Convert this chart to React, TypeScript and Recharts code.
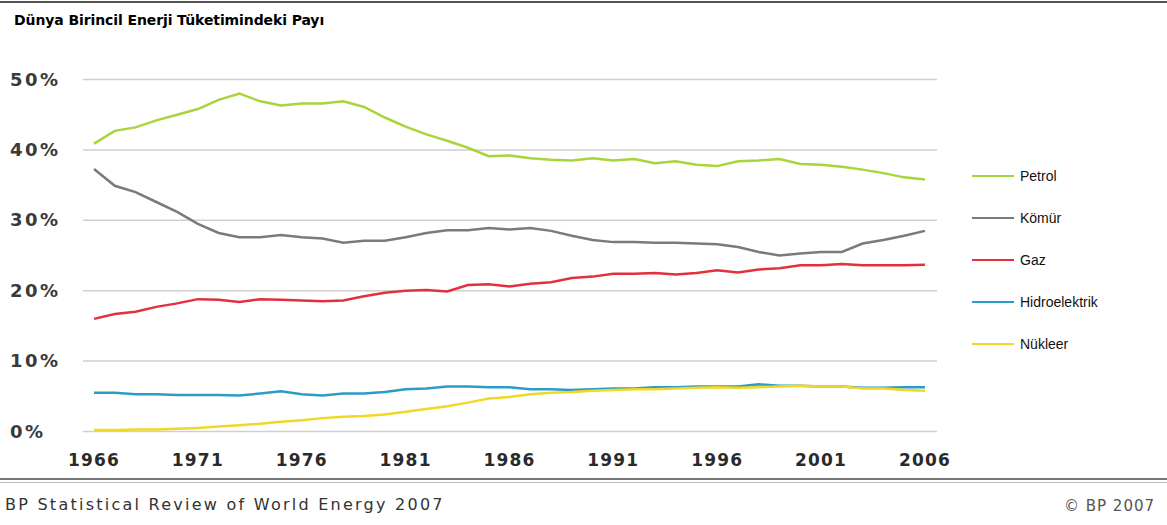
import React from 'react';
import { LineChart, Line, XAxis, YAxis, CartesianGrid } from 'recharts';

const years = [
  1966, 1967, 1968, 1969, 1970, 1971, 1972, 1973, 1974, 1975,
  1976, 1977, 1978, 1979, 1980, 1981, 1982, 1983, 1984, 1985,
  1986, 1987, 1988, 1989, 1990, 1991, 1992, 1993, 1994, 1995,
  1996, 1997, 1998, 1999, 2000, 2001, 2002, 2003, 2004, 2005, 2006,
];

const petrol = [
  40.9, 42.7, 43.2, 44.2, 45.0, 45.8, 47.1, 48.0, 46.9, 46.3,
  46.6, 46.6, 46.9, 46.1, 44.6, 43.3, 42.2, 41.3, 40.3, 39.1,
  39.2, 38.8, 38.6, 38.5, 38.8, 38.5, 38.7, 38.1, 38.4, 37.9,
  37.7, 38.4, 38.5, 38.7, 38.0, 37.9, 37.6, 37.2, 36.7, 36.1, 35.8,
];

const komur = [
  37.3, 34.9, 34.0, 32.6, 31.2, 29.5, 28.2, 27.6, 27.6, 27.9,
  27.6, 27.4, 26.8, 27.1, 27.1, 27.6, 28.2, 28.6, 28.6, 28.9,
  28.7, 28.9, 28.5, 27.8, 27.2, 26.9, 26.9, 26.8, 26.8, 26.7,
  26.6, 26.2, 25.5, 25.0, 25.3, 25.5, 25.5, 26.7, 27.2, 27.8, 28.5,
];

const gaz = [
  16.0, 16.7, 17.0, 17.7, 18.2, 18.8, 18.7, 18.4, 18.8, 18.7,
  18.6, 18.5, 18.6, 19.2, 19.7, 20.0, 20.1, 19.9, 20.8, 20.9,
  20.6, 21.0, 21.2, 21.8, 22.0, 22.4, 22.4, 22.5, 22.3, 22.5,
  22.9, 22.6, 23.0, 23.2, 23.6, 23.6, 23.8, 23.6, 23.6, 23.6, 23.7,
];

const hidro = [
  5.5, 5.5, 5.3, 5.3, 5.2, 5.2, 5.2, 5.1, 5.4, 5.7,
  5.3, 5.1, 5.4, 5.4, 5.6, 6.0, 6.1, 6.4, 6.4, 6.3,
  6.3, 6.0, 6.0, 5.9, 6.0, 6.1, 6.1, 6.3, 6.3, 6.4,
  6.4, 6.4, 6.7, 6.5, 6.5, 6.4, 6.4, 6.2, 6.2, 6.3, 6.3,
];

const nukleer = [
  0.2, 0.2, 0.3, 0.3, 0.4, 0.5, 0.7, 0.9, 1.1, 1.4,
  1.6, 1.9, 2.1, 2.2, 2.4, 2.8, 3.2, 3.6, 4.1, 4.7,
  4.9, 5.3, 5.5, 5.6, 5.8, 5.9, 6.0, 6.0, 6.1, 6.2,
  6.3, 6.2, 6.3, 6.4, 6.5, 6.4, 6.4, 6.1, 6.1, 5.9, 5.8,
];

const xTicks = [1966, 1971, 1976, 1981, 1986, 1991, 1996, 2001, 2006];
const yTicks = [0, 10, 20, 30, 40, 50];

const series = [
  { key: 'petrol', name: 'Petrol', color: '#a8d43c' },
  { key: 'komur', name: 'Kömür', color: '#7a7a7a' },
  { key: 'gaz', name: 'Gaz', color: '#e2303e' },
  { key: 'hidro', name: 'Hidroelektrik', color: '#2b9cc6' },
  { key: 'nukleer', name: 'Nükleer', color: '#f0d824' },
];

const data = years.map((year, i) => ({
  year,
  petrol: petrol[i],
  komur: komur[i],
  gaz: gaz[i],
  hidro: hidro[i],
  nukleer: nukleer[i],
}));

function YTick({ y, payload }: any) {
  return (
    <text x={10} y={y} dy={6} textAnchor="start" fill="#3a3a3a"
      fontFamily="DejaVu Sans" fontWeight="bold" fontSize={18} letterSpacing={2.5}>
      {payload.value}%
    </text>
  );
}

function XTick({ x, y, payload }: any) {
  return (
    <text x={x} y={y} dy={26} textAnchor="middle" fill="#2a2a2a"
      fontFamily="DejaVu Sans" fontWeight="bold" fontSize={17} letterSpacing={1.2}>
      {payload.value}
    </text>
  );
}

export default function App() {
  return (
    <div style={{ position: 'absolute', left: 0, top: 0, width: 1167, height: 525, background: '#fff', overflow: 'hidden' }}>
      <div style={{ position: 'absolute', left: 0, top: 1, width: 1167, height: 2, background: '#555' }} />
      <div style={{
        position: 'absolute', left: 14, top: 12, fontFamily: 'DejaVu Sans, sans-serif',
        fontWeight: 'bold', fontSize: 14, color: '#000', letterSpacing: -0.1, whiteSpace: 'nowrap',
      }}>
        Dünya Birincil Enerji Tüketimindeki Payı
      </div>

      <LineChart width={1167} height={525} data={data}
        margin={{ top: 79.5, right: 230, bottom: 63.5, left: 10 }}>
        <CartesianGrid vertical={false} stroke="#cfcfcf" strokeWidth={1.5} />
        <XAxis dataKey="year" type="number" domain={[1965.47, 2006.58]} ticks={xTicks}
          allowDataOverflow axisLine={false} tickLine={false} height={30} tick={<XTick />} />
        <YAxis type="number" domain={[0, 50]} ticks={yTicks} width={73}
          axisLine={false} tickLine={false} tick={<YTick />} />
        {series.map((s) => (
          <Line key={s.key} dataKey={s.key} name={s.name} stroke={s.color} strokeWidth={2.5}
            dot={false} isAnimationActive={false} type="linear" />
        ))}
      </LineChart>

      <div style={{
        position: 'absolute', left: 972, top: 155, fontFamily: 'Liberation Sans, Arial, sans-serif',
        fontSize: 14, color: '#111',
      }}>
        {series.map((s) => (
          <div key={s.key} style={{ display: 'flex', alignItems: 'center', height: 42 }}>
            <span style={{ display: 'inline-block', width: 42, height: 2, background: s.color, marginRight: 6 }} />
            <span>{s.name}</span>
          </div>
        ))}
      </div>

      <div style={{ position: 'absolute', left: 0, top: 478, width: 1167, height: 2, background: '#777' }} />
      <div style={{ position: 'absolute', left: 0, top: 482, width: 1167, height: 1, background: '#bbb' }} />
      <div style={{
        position: 'absolute', left: 5, top: 495, fontFamily: 'DejaVu Sans, sans-serif',
        fontSize: 16, color: '#333', letterSpacing: 2.25, whiteSpace: 'nowrap',
      }}>
        BP Statistical Review of World Energy 2007
      </div>
      <div style={{
        position: 'absolute', left: 1064, top: 497, fontFamily: 'DejaVu Sans, sans-serif',
        fontSize: 15, color: '#555', letterSpacing: 1, whiteSpace: 'nowrap',
      }}>
        © BP 2007
      </div>
    </div>
  );
}
